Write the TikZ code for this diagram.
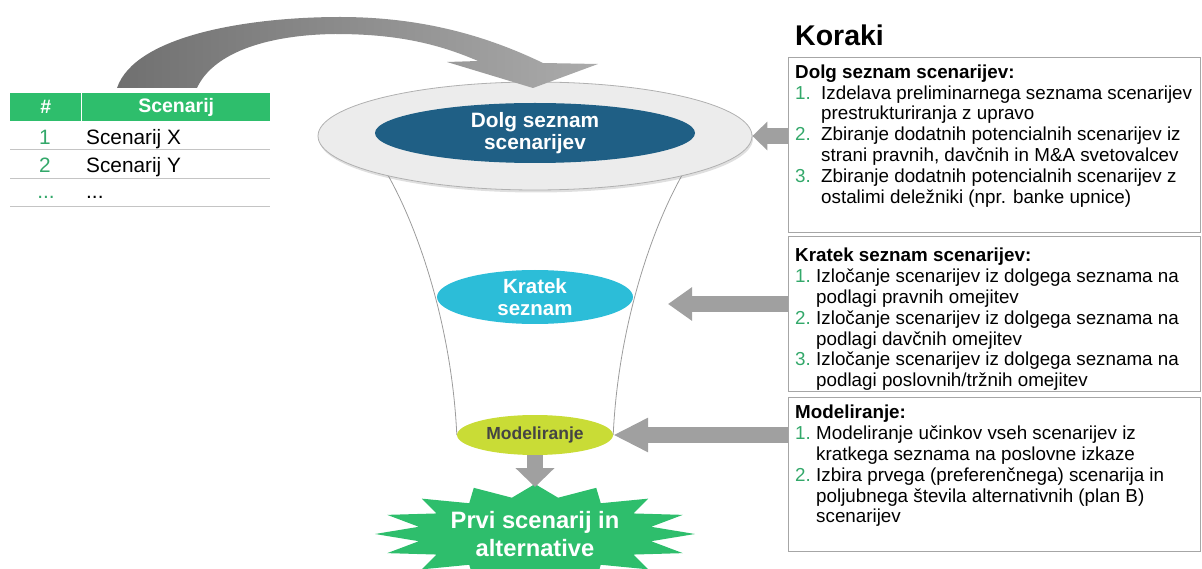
\documentclass[tikz,border=0pt]{standalone}
\usepackage{fontspec}
\setmainfont{Liberation Sans}
\usetikzlibrary{shapes.geometric,arrows.meta,shadows,calc}

\definecolor{kgreen}{HTML}{2EBE6C}
\definecolor{knum}{HTML}{33A86A}
\definecolor{kblue}{HTML}{1F5F85}
\definecolor{kcyan}{HTML}{2CBDD8}
\definecolor{klime}{HTML}{C9DC36}
\definecolor{kgraytext}{HTML}{444444}
\definecolor{karrow}{HTML}{A0A0A0}
\definecolor{kframe}{HTML}{A6A6A6}
\definecolor{krule}{HTML}{C4C4C4}
\definecolor{kdisc}{HTML}{ECECEC}
\definecolor{kdiscrim}{HTML}{B0B0B0}
\definecolor{kfunnel}{HTML}{9C9C9C}
\definecolor{kcurveL}{HTML}{707070}
\definecolor{kcurveR}{HTML}{ABABAB}

% numbered step lines: number in a fixed-width slot, continuation lines indented
\newcommand\stepno[2]{\makebox[#1][l]{\textcolor{knum}{#2}}}
\newcommand\stepgap[1]{\makebox[#1]{}}

\begin{document}
\begin{tikzpicture}[x=1pt,y=-1pt,
  disc/.style={ellipse, inner sep=0pt, align=center},
  hdr/.style={fill=kgreen, text=white, inner sep=0pt, minimum height=28pt,
    anchor=north west, font=\bfseries\fontsize{19.5}{22}\selectfont},
  cell/.style={inner sep=0pt, anchor=base west, font=\fontsize{20.8}{22}\selectfont},
  numcell/.style={inner sep=0pt, anchor=base, text=knum, font=\fontsize{20.8}{22}\selectfont},
  frame/.style={draw=kframe, line width=1.2pt, inner sep=0pt, anchor=north west,
    minimum width=412pt},
  steps/.style={inner sep=0pt, anchor=north west, align=left,
    font=\fontsize{18.8}{20.8}\selectfont},
  pointer/.style={draw=karrow, line width=16pt},
  tablerule/.style={draw=krule, line width=1pt},
]
\useasboundingbox (0,0) rectangle (1202,569);

% ---------- scenario table ----------
\node[hdr, minimum width=71pt] (hnum) at (10,93) {\#};
\node[hdr, minimum width=188pt] (hname) at (82,93) {Scenarij};
\node[numcell] (n1) at (45,144.5) {1};
\node[cell] (s1) at (86,144.5) {Scenarij X};
\node[numcell] (n2) at (45,172.5) {2};
\node[cell] (s2) at (86,172.5) {Scenarij Y};
\node[numcell] (n3) at (46,199) {...};
\node[cell] (s3) at (86,199) {...};
\draw[tablerule] (10,150) -- (270,150);
\draw[tablerule] (10,179) -- (270,179);
\draw[tablerule] (10,207) -- (270,207);

% ---------- funnel ----------
\node[disc, minimum width=196pt, minimum height=54pt] (kratek) at (535,297) {};
\node[disc, minimum width=156pt, minimum height=40pt] (model) at (535,435) {};
\draw[kfunnel, line width=0.8pt] (385,170) .. controls (420,230) and (452,330) .. (model.west);
\draw[kfunnel, line width=0.8pt] (685,170) .. controls (650,230) and (618,330) .. (model.east);

\node[disc, fill=kdisc, draw=kdiscrim, line width=0.8pt, minimum width=434pt,
  minimum height=108pt,
  drop shadow={shadow xshift=1pt, shadow yshift=-2.5pt, opacity=0.25}] (big) at (535,136) {};
\node[disc, fill=kblue, text=white, minimum width=320pt, minimum height=60pt,
  font=\bfseries\fontsize{20.8}{22}\selectfont] (dolg) at (535,133) {Dolg seznam\\scenarijev};
\node[disc, fill=kcyan, text=white, minimum width=196pt, minimum height=54pt,
  font=\bfseries\fontsize{20.5}{22}\selectfont] at (kratek) {Kratek\\seznam};
\node[disc, fill=klime, text=kgraytext, minimum width=156pt, minimum height=40pt,
  font=\bfseries\fontsize{17.5}{20}\selectfont] at (model) {Modeliranje};

% ---------- curved arrow from the table into the funnel ----------
\shade[left color=kcurveL, right color=kcurveR]
  (117,88) .. controls (135,35) and (250,17) .. (340,17)
  .. controls (420,17) and (485,35) .. (543,63)
  -- (598,64) -- (533,88) -- (447,62) -- (478,61)
  .. controls (430,40) and (385,34) .. (335,34)
  .. controls (262,35) and (212,55) .. (197,88) -- cycle;

% ---------- result burst ----------
\fill[kgreen] (695,534)
  \foreach \i [evaluate=\i as \r using {mod(\i,2)==0 ? 1 : 0.74}] in {1,...,31}
    { -- ({535+160*\r*cos(\i*11.25)},{534-50*\r*sin(\i*11.25)}) } -- cycle;
\coordinate (burst) at (535,487);
\node[inner sep=0pt, align=center, text=white,
  font=\bfseries\fontsize{23.7}{28}\selectfont] (result) at (535,534)
  {Prvi scenarij in\\alternative};
\draw[pointer, -{Triangle[length=19pt,width=38pt]}] (model.south) -- (burst);

% ---------- steps ----------
\node[inner sep=0pt, anchor=base west, font=\bfseries\fontsize{28.5}{30}\selectfont]
  (koraki) at (795,46) {Koraki};

\node[frame, minimum height=175pt] (box1) at (788,57) {};
\node[frame, minimum height=155pt] (box2) at (788,236) {};
\node[frame, minimum height=154pt] (box3) at (788,397) {};

\node[steps] (t1) at (795,64.5) {\textbf{Dolg seznam scenarijev:}\\
  \stepno{26pt}{1.}Izdelava preliminarnega seznama scenarijev\\
  \stepgap{26pt}prestrukturiranja z upravo\\
  \stepno{26pt}{2.}Zbiranje dodatnih potencialnih scenarijev iz\\
  \stepgap{26pt}strani pravnih, davčnih in M\&A svetovalcev\\
  \stepno{26pt}{3.}Zbiranje dodatnih potencialnih scenarijev z\\
  \stepgap{26pt}ostalimi deležniki (npr. banke upnice)};

\node[steps] (t2) at (795,248) {\textbf{Kratek seznam scenarijev:}\\
  \stepno{21pt}{1.}Izločanje scenarijev iz dolgega seznama na\\
  \stepgap{21pt}podlagi pravnih omejitev\\
  \stepno{21pt}{2.}Izločanje scenarijev iz dolgega seznama na\\
  \stepgap{21pt}podlagi davčnih omejitev\\
  \stepno{21pt}{3.}Izločanje scenarijev iz dolgega seznama na\\
  \stepgap{21pt}podlagi poslovnih/tržnih omejitev};

\node[steps] (t3) at (795,405) {\textbf{Modeliranje:}\\
  \stepno{21pt}{1.}Modeliranje učinkov vseh scenarijev iz\\
  \stepgap{21pt}kratkega seznama na poslovne izkaze\\
  \stepno{21pt}{2.}Izbira prvega (preferenčnega) scenarija in\\
  \stepgap{21pt}poljubnega števila alternativnih (plan B)\\
  \stepgap{21pt}scenarijev};

% ---------- pointers from the steps into the funnel ----------
\coordinate (kratekin) at (668,304);
\draw[pointer, -{Triangle[length=15pt,width=28pt]}] (box1.west |- big.east) -- (big.east);
\draw[pointer, -{Triangle[length=24pt,width=32pt]}] (box2.west |- kratekin) -- (kratekin);
\draw[pointer, -{Triangle[length=35pt,width=32pt]}] (box3.west |- model.east) -- (model.east);
\end{tikzpicture}
\end{document}
